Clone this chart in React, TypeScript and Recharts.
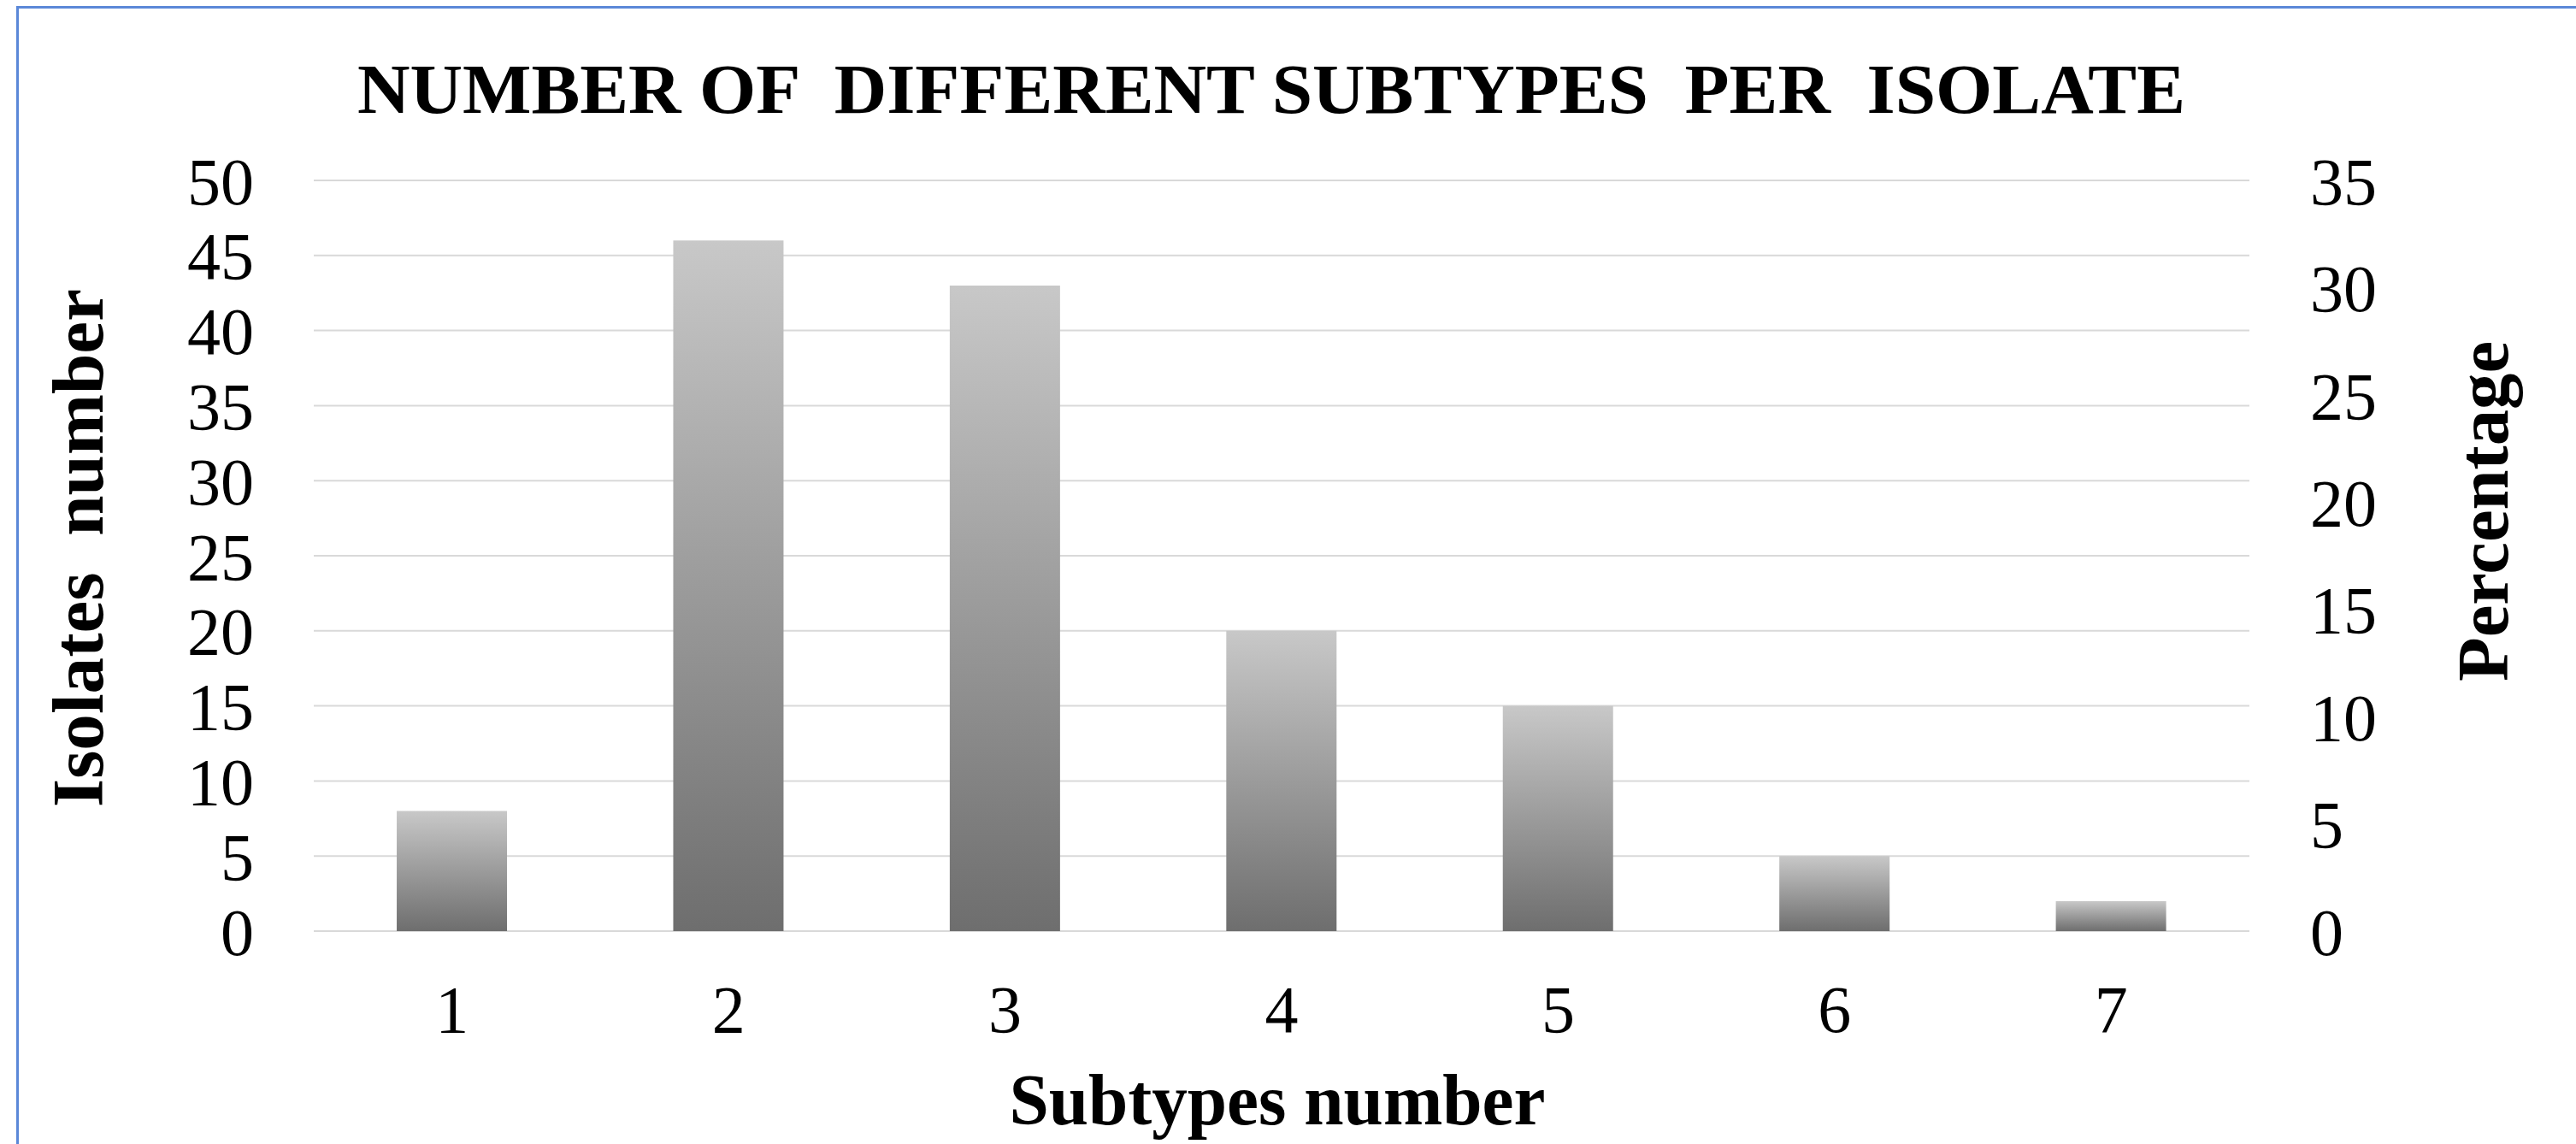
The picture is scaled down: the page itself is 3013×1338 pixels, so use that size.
import React from "react";
import { ComposedChart, Bar, Line, XAxis, YAxis, CartesianGrid } from "recharts";

const subtypes = ["1", "2", "3", "4", "5", "6", "7"];
const isolates = [8, 46, 43, 20, 15, 5, 2];
const leftTicks = [0, 5, 10, 15, 20, 25, 30, 35, 40, 45, 50];
const rightTicks = [0, 5, 10, 15, 20, 25, 30, 35];

const chartTitle = "NUMBER OF  DIFFERENT SUBTYPES  PER  ISOLATE";
const xTitle = "Subtypes number";
const leftTitle = "Isolates  number";
const rightTitle = "Percentage";

const W = 3013;
const H = 1338;
const serif = "'Liberation Serif', 'Times New Roman', serif";

const data = subtypes.map((s, i) => ({ subtype: s, isolates: isolates[i] }));

const tickStyle = { fill: "#000", fontSize: 78, fontFamily: serif };

export default function App() {
    return (
        <div style={{ position: "absolute", left: 0, top: 0, width: W, height: H, background: "#fff", overflow: "hidden" }}>
            <div style={{ position: "absolute", left: 19, top: 7, width: W, height: H, borderLeft: "3px solid #5B88D8", borderTop: "3px solid #5B88D8" }} />
            <div style={{ position: "absolute", left: 0, top: 0 }}>
                <ComposedChart width={W} height={H} data={data} barCategoryGap="30%"
                    margin={{ top: 211, right: 0, left: 0, bottom: 0 }}>
                    <defs>
                        <linearGradient id="barFill" x1="0" y1="0" x2="0" y2="1">
                            <stop offset="0%" stopColor="#C8C8C8" />
                            <stop offset="100%" stopColor="#6E6E6E" />
                        </linearGradient>
                    </defs>
                    <CartesianGrid vertical={false} yAxisId="left" stroke="#D9D9D9" strokeWidth={2} />
                    <XAxis dataKey="subtype" height={249} axisLine={false} tickLine={false}
                        tickSize={0} tickMargin={63} tick={tickStyle} interval={0} />
                    <YAxis yAxisId="left" orientation="left" width={367} domain={[0, 50]} ticks={leftTicks}
                        axisLine={false} tickLine={false} tickSize={0} tickMargin={70} tick={tickStyle} interval={0} />
                    <YAxis yAxisId="right" orientation="right" width={382} domain={[0, 35]} ticks={rightTicks}
                        allowDataOverflow axisLine={false} tickLine={false} tickSize={0} tickMargin={71}
                        tick={tickStyle} interval={0} />
                    <Bar yAxisId="left" dataKey="isolates" fill="url(#barFill)" isAnimationActive={false} />
                    {/* carrier for the secondary axis, not drawn */}
                    <Line yAxisId="right" dataKey="isolates" stroke="none" dot={false} activeDot={false}
                        legendType="none" isAnimationActive={false} />
                </ComposedChart>
            </div>
            <svg width={W} height={H} style={{ position: "absolute", left: 0, top: 0, pointerEvents: "none" }}>
                <text x={1487} y={132} textAnchor="middle" fontFamily={serif} fontWeight="bold" fontSize={83}
                    textLength={2138} lengthAdjust="spacingAndGlyphs" style={{ whiteSpace: "pre" }}>{chartTitle}</text>
                <text x={1494} y={1315} textAnchor="middle" fontFamily={serif} fontWeight="bold" fontSize={84}
                    textLength={627} lengthAdjust="spacingAndGlyphs" style={{ whiteSpace: "pre" }}>{xTitle}</text>
                <text x={0} y={0} transform="translate(120,641) rotate(-90)" textAnchor="middle" fontFamily={serif}
                    fontWeight="bold" fontSize={84} textLength={606} lengthAdjust="spacingAndGlyphs"
                    style={{ whiteSpace: "pre" }}>{leftTitle}</text>
                <text x={0} y={0} transform="translate(2933,598) rotate(-90)" textAnchor="middle" fontFamily={serif}
                    fontWeight="bold" fontSize={84} textLength={398} lengthAdjust="spacingAndGlyphs">{rightTitle}</text>
            </svg>
        </div>
    );
}
